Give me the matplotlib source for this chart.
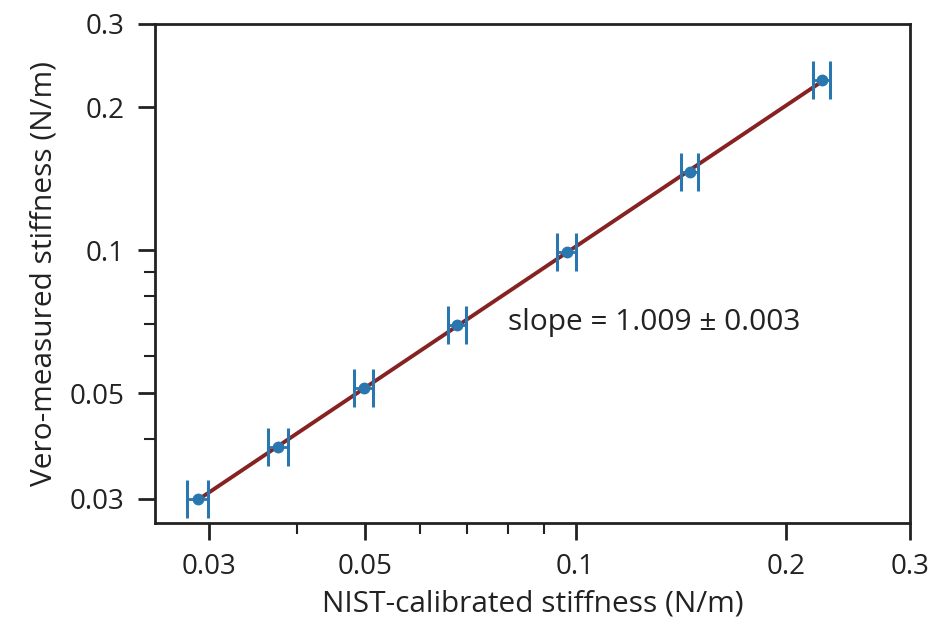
import numpy as np
import matplotlib.pyplot as plt
from matplotlib.ticker import FixedLocator, NullFormatter

plt.rcParams['font.family'] = ['Open Sans', 'DejaVu Sans']

# NIST-calibrated vs Vero-measured stiffness (N/m)
nist = [0.0289, 0.0376, 0.0498, 0.0678, 0.0971, 0.1455, 0.2246]
vero = [0.0299, 0.0385, 0.0512, 0.0698, 0.0990, 0.1459, 0.2280]
nist_err = [0.0010, 0.0012, 0.0015, 0.0020, 0.0029, 0.0042, 0.0062]
slope_text = 'slope = 1.009 ± 0.003'

xticks = [0.03, 0.05, 0.1, 0.2, 0.3]
yticks = [0.03, 0.05, 0.1, 0.2, 0.3]
minor = [0.04, 0.06, 0.07, 0.08, 0.09]

fig = plt.figure(figsize=(9.35, 6.26), dpi=100)
ax = fig.add_axes([0.166, 0.165, 0.807, 0.797])

# power-law fit on log scale
p = np.polyfit(np.log10(nist), np.log10(vero), 1)
xf = np.array([min(nist), max(nist)])
ax.plot(xf, 10 ** np.polyval(p, np.log10(xf)), color='#862222', lw=2.8, zorder=2)

ax.errorbar(nist, vero, xerr=nist_err, fmt='o', color='#2a77b0', ms=7.5,
            elinewidth=2, capsize=13.5, capthick=2.2, zorder=3)

ax.text(0.08, 0.0706, slope_text, fontsize=21.5, color='#222222', va='center', ha='left')

ax.set_xscale('log')
ax.set_yscale('log')
ax.set_xlim(0.0251, 0.3)
ax.set_ylim(0.0267, 0.3)

ax.xaxis.set_major_locator(FixedLocator(xticks))
ax.yaxis.set_major_locator(FixedLocator(yticks))
ax.xaxis.set_minor_locator(FixedLocator(minor))
ax.yaxis.set_minor_locator(FixedLocator(minor))
ax.set_xticklabels([str(t) for t in xticks])
ax.set_yticklabels([str(t) for t in yticks])
ax.xaxis.set_minor_formatter(NullFormatter())
ax.yaxis.set_minor_formatter(NullFormatter())

ax.tick_params(which='major', length=12, width=2, labelsize=20, colors='#222222', pad=10)
ax.tick_params(which='minor', length=8, width=1.5, colors='#222222')
for s in ax.spines.values():
    s.set_linewidth(2)
    s.set_color('#222222')

ax.set_xlabel('NIST-calibrated stiffness (N/m)', fontsize=21.5, color='#222222', labelpad=6)
ax.set_ylabel('Vero-measured stiffness (N/m)', fontsize=21.5, color='#222222', labelpad=8)

fig.savefig('out.png', dpi=100)
